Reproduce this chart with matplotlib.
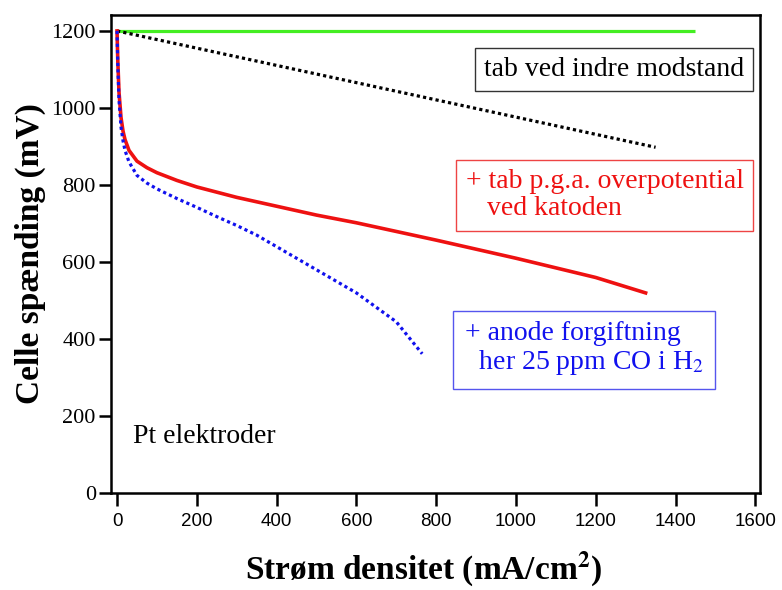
import matplotlib.pyplot as plt

plt.rcParams['mathtext.fontset'] = 'stix'

# ideal cell voltage
ideal_x = [0, 1450]
ideal_y = [1200, 1200]

# loss from internal resistance
ohm_x = [0, 1350]
ohm_y = [1200, 898]

# + cathode overpotential
cat_x = [0, 2, 5, 10, 15, 20, 30, 50, 75, 100, 150, 200, 300, 400, 500, 600, 800, 1000, 1200, 1325]
cat_y = [1200, 1120, 1040, 975, 940, 918, 890, 862, 845, 832, 812, 795, 768, 745, 722, 702, 657, 610, 560, 520]

# + anode poisoning (25 ppm CO)
co_x = [0, 2, 5, 10, 15, 20, 30, 50, 75, 100, 150, 200, 250, 300, 350, 400, 500, 600, 700, 765]
co_y = [1200, 1110, 1020, 950, 915, 890, 860, 825, 805, 790, 765, 742, 718, 695, 670, 640, 580, 520, 445, 362]

xticks = [0, 200, 400, 600, 800, 1000, 1200, 1400, 1600]
yticks = [0, 200, 400, 600, 800, 1000, 1200]

fig = plt.figure(figsize=(7.82, 5.9), dpi=100)
ax = fig.add_axes([0.142, 0.164, 0.830, 0.811])

ax.plot(ideal_x, ideal_y, color='#44ee22', lw=2.3, solid_capstyle='butt')
ax.plot(ohm_x, ohm_y, color='black', lw=2.3, linestyle=(0, (1, 1)))
ax.plot(cat_x, cat_y, color='#ee1111', lw=2.6)
ax.plot(co_x, co_y, color='#1111ee', lw=2.3, linestyle=(0, (1, 1)))

ax.set_xlim(-15, 1612)
ax.set_ylim(0, 1242)
ax.set_xticks(xticks)
ax.set_yticks(yticks)
ax.set_xticklabels([str(v) for v in xticks], family='Liberation Sans', fontsize=13.5)
ax.set_yticklabels([str(v) for v in yticks], family='Liberation Serif', fontsize=16)
ax.tick_params(direction='out', length=9, width=1.8, pad=2)
ax.tick_params(axis='x', pad=5)
for s in ax.spines.values():
    s.set_linewidth(1.8)

ax.set_ylabel('Celle spænding (mV)', family='Liberation Serif', fontweight='bold', fontsize=24)
ax.yaxis.set_label_coords(-0.125, 0.5)
ax.yaxis.label.set_va('center')
ax.set_xlabel('Strøm densitet (mA/cm$^\\mathbf{2}$)', family='Liberation Serif',
              fontweight='bold', fontsize=24)
ax.xaxis.set_label_coords(0.481, -0.181)
ax.xaxis.label.set_va('baseline')

ax.text(1246, 1100, 'tab ved indre modstand', family='Liberation Serif', fontsize=20,
        color='black', ha='center', va='center',
        bbox=dict(boxstyle='square,pad=0.33', fc='white', ec='#333333', lw=1))
ax.text(1222, 773, '+ tab p.g.a. overpotential\n   ved katoden', family='Liberation Serif',
        fontsize=20, color='#ee1111', ha='center', va='center', multialignment='left',
        linespacing=1.1,
        bbox=dict(boxstyle='square,pad=0.33', fc='white', ec='#ee4444', lw=1))
ax.text(1171, 374, '+ anode forgiftning\n  her 25 ppm CO i H$_2$', family='Liberation Serif',
        fontsize=20, color='#1111ee', ha='center', va='center', multialignment='left',
        linespacing=1.1,
        bbox=dict(boxstyle='square,pad=0.42', fc='white', ec='#5555ee', lw=1))
ax.text(40, 148, 'Pt elektroder', family='Liberation Serif', fontsize=20, color='black',
        ha='left', va='center')

fig.savefig('out.png', dpi=100)
